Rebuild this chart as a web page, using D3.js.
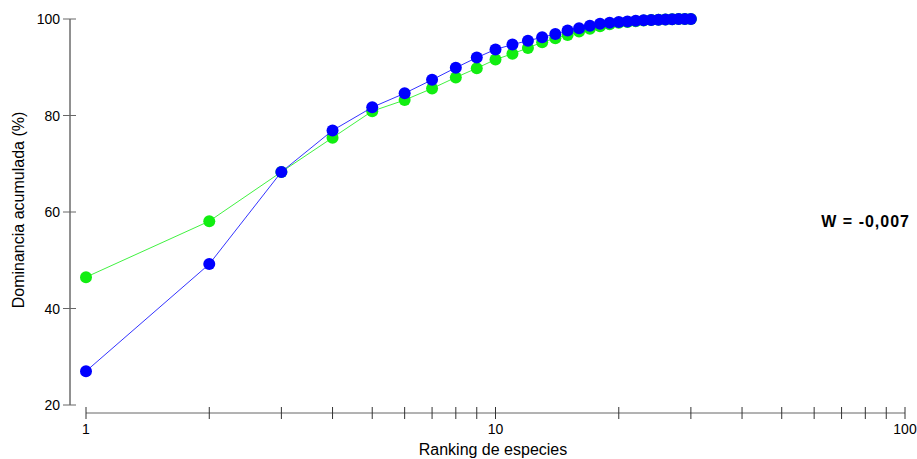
<!DOCTYPE html>
<html><head><meta charset="utf-8">
<script src="https://cdn.jsdelivr.net/npm/d3@7"></script>
<style>body{margin:0;background:#fff;} text{font-family:"Liberation Sans",Arial,sans-serif;}</style>
</head><body>
<svg id="c" width="917" height="459"></svg>
<script>
const ranks = d3.range(1, 31);
const greenValues = [46.5,58.1,68.3,75.4,80.9,83.2,85.6,87.9,89.8,91.6,92.8,94.0,95.2,96.0,96.7,97.4,98.0,98.5,98.9,99.2,99.4,99.55,99.7,99.8,99.85,99.9,99.95,100,100,100];
const blueValues  = [27.0,49.2,68.3,76.9,81.7,84.6,87.4,89.9,92.0,93.7,94.7,95.5,96.2,96.9,97.6,98.1,98.6,99.0,99.2,99.4,99.5,99.65,99.75,99.8,99.85,99.9,99.95,100,100,100];
const yTicks = [20,40,60,80,100];
const xMajor = [1,10,100];
const xLabel = "Ranking de especies";
const yLabel = "Dominancia acumulada (%)";
const note = "W = -0,007";

const svg = d3.select("#c");
const x = d3.scaleLog().domain([1,100]).range([86,905]);
const y = d3.scaleLinear().domain([20,100]).range([405,19]);

// y axis
const ya = svg.append("g");
ya.append("line").attr("x1",70).attr("x2",70).attr("y1",y(100)).attr("y2",y(20)).attr("stroke","#222");
yTicks.forEach(t=>{
  ya.append("line").attr("x1",63).attr("x2",76).attr("y1",y(t)).attr("y2",y(t)).attr("stroke","#666");
  ya.append("text").attr("x",60).attr("y",y(t)).attr("dy","0.36em").attr("text-anchor","end")
    .attr("font-size",14).attr("fill","#000").text(t);
});
// x axis
const xa = svg.append("g");
xa.append("line").attr("x1",x(1)).attr("x2",x(100)).attr("y1",413).attr("y2",413).attr("stroke","#666");
const xt = x.ticks();
xt.forEach(t=>{
  xa.append("line").attr("x1",x(t)).attr("x2",x(t)).attr("y1",407).attr("y2",419).attr("stroke","#333");
});
xMajor.forEach(t=>{
  xa.append("text").attr("x",x(t)).attr("y",434).attr("text-anchor","middle").attr("font-size",14).text(t);
});
svg.append("text").attr("x",493).attr("y",455).attr("text-anchor","middle").attr("font-size",16).text(xLabel);
svg.append("text").attr("transform","translate(24,210) rotate(-90)").attr("text-anchor","middle").attr("font-size",16).text(yLabel);
svg.append("text").attr("x",910).attr("y",227).attr("text-anchor","end").attr("font-size",16).attr("letter-spacing","1px").attr("font-weight","bold").text(note);

function series(vals,color){
  const data = ranks.map((r,i)=>({r,v:vals[i]}));
  const line = d3.line().x(d=>x(d.r)).y(d=>y(d.v));
  svg.append("path").datum(data).attr("d",line).attr("fill","none").attr("stroke",color).attr("stroke-width",1).attr("opacity",0.8);
  svg.append("g").selectAll("circle").data(data).join("circle")
    .attr("cx",d=>x(d.r)).attr("cy",d=>y(d.v)).attr("r",6).attr("fill",color);
}
series(greenValues,"#11ee11");
series(blueValues,"#0000ff");
</script>
</body></html>
